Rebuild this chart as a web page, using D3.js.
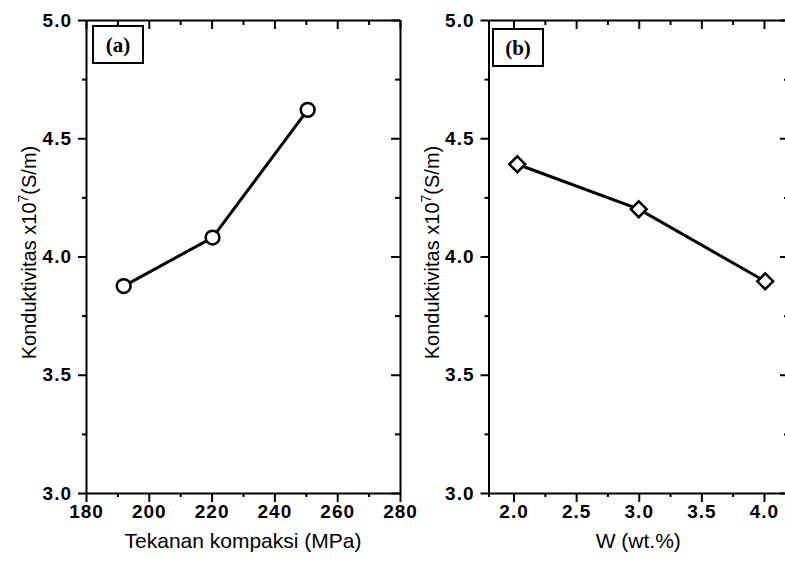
<!DOCTYPE html>
<html>
<head>
<meta charset="utf-8">
<script src="https://cdn.jsdelivr.net/npm/d3@7"></script>
<style>
  body { margin: 0; background: #fff; }
  svg { display: block; }
</style>
</head>
<body>
<script>
// data
var pressure = [192, 220.3, 250.6];      // MPa
var condA = [3.875, 4.08, 4.62];         // x10^7 S/m
var wContent = [2.03, 3.0, 4.01];        // wt.%
var condB = [4.39, 4.2, 3.895];          // x10^7 S/m

var yTicks = [3.0, 3.5, 4.0, 4.5, 5.0];
var yMinor = [3.25, 3.75, 4.25, 4.75];
var xTicksA = [180, 200, 220, 240, 260, 280];
var xMinorA = [190, 210, 230, 250, 270];
var xTicksB = [2.0, 2.5, 3.0, 3.5, 4.0];
var xMinorB = [1.8, 2.25, 2.75, 3.25, 3.75, 4.25];

var width = 785;
var height = 563;

var svg = d3
  .select("body")
  .append("svg")
  .attr("width", width)
  .attr("height", height)
  .style("font-family", "'Liberation Sans', Arial, sans-serif");

var y = d3.scaleLinear().domain([3, 5]).range([493, 20]);
var xA = d3.scaleLinear().domain([180, 280]).range([86, 400]);
var xB = d3.scaleLinear().domain([1.8, 4.2]).range([488.5, 789]);

function drawPanel(x, xs, ys, ticks, minor, fmt, xTitle, tag, boxX, boxY, marker, msize) {
  var g = svg.append("g");
  var x0 = x.range()[0], x1 = x.range()[1];
  var y0 = y.range()[0], y1 = y.range()[1];

  // bottom axis
  var bot = g.append("g").attr("transform", "translate(0," + y0 + ")");
  bot.call(d3.axisBottom(x).tickValues(ticks).tickSize(9).tickSizeOuter(0).tickPadding(3).tickFormat(fmt));
  bot.append("g").call(d3.axisBottom(x).tickValues(minor).tickSize(4).tickFormat(""))
    .select(".domain").remove();
  // top axis, ticks inward
  var top = g.append("g").attr("transform", "translate(0," + y1 + ")");
  top.call(d3.axisBottom(x).tickValues(ticks).tickSize(9).tickSizeOuter(0).tickFormat(""));
  top.append("g").call(d3.axisBottom(x).tickValues(minor).tickSize(5).tickFormat(""))
    .select(".domain").remove();
  // left axis
  var left = g.append("g").attr("transform", "translate(" + x0 + ",0)");
  left.call(d3.axisLeft(y).tickValues(yTicks).tickSize(8).tickSizeOuter(0).tickPadding(6).tickFormat(d3.format(".1f")));
  left.append("g").call(d3.axisLeft(y).tickValues(yMinor).tickSize(4).tickFormat(""))
    .select(".domain").remove();
  // right axis, ticks inward
  var right = g.append("g").attr("transform", "translate(" + x1 + ",0)");
  right.call(d3.axisLeft(y).tickValues(yTicks).tickSize(9).tickSizeOuter(0).tickFormat(""));
  right.append("g").call(d3.axisLeft(y).tickValues(yMinor).tickSize(5).tickFormat(""))
    .select(".domain").remove();

  g.selectAll(".domain").attr("stroke", "#000").attr("stroke-width", 2);
  g.selectAll(".tick line").attr("stroke", "#000").attr("stroke-width", 2);
  g.selectAll(".tick text")
    .attr("fill", "#000")
    .attr("font-size", "19px")
    .attr("font-weight", "bold")
    .attr("letter-spacing", "1px")
    .attr("font-family", "'Liberation Sans', Arial, sans-serif");

  // x title
  g.append("text")
    .attr("x", (x0 + Math.min(x1, 788)) / 2)
    .attr("y", 548)
    .attr("text-anchor", "middle")
    .attr("font-size", "21px")
    .text(xTitle);

  // y title
  var yt = g.append("text")
    .attr("transform", "translate(" + (x0 - 50) + "," + ((y0 + y1) / 2 - 4) + ") rotate(-90)")
    .attr("text-anchor", "middle")
    .attr("font-size", "20px");
  yt.append("tspan").text("Konduktivitas x10");
  yt.append("tspan").attr("dy", -8).attr("font-size", "14px").text("7");
  yt.append("tspan").attr("dy", 8).text("(S/m)");

  // panel tag box
  g.append("rect")
    .attr("x", boxX).attr("y", boxY)
    .attr("width", 50).attr("height", 37)
    .attr("fill", "#fff").attr("stroke", "#000").attr("stroke-width", 2);
  g.append("text")
    .attr("x", boxX + 25).attr("y", boxY + 26)
    .attr("text-anchor", "middle")
    .attr("font-family", "'Liberation Serif', 'Times New Roman', serif")
    .attr("font-weight", "bold")
    .attr("font-size", "21px")
    .text(tag);

  // line + markers
  var pts = xs.map(function (d, i) { return [d, ys[i]]; });
  g.append("path")
    .datum(pts)
    .attr("fill", "none")
    .attr("stroke", "#000")
    .attr("stroke-width", 3)
    .attr("d", d3.line().x(function (d) { return x(d[0]); }).y(function (d) { return y(d[1]); }));

  g.selectAll(".pt")
    .data(pts)
    .enter()
    .append("path")
    .attr("class", "pt")
    .attr("transform", function (d) { return "translate(" + x(d[0]) + "," + y(d[1]) + ")"; })
    .attr("d", d3.symbol().type(marker).size(msize))
    .attr("fill", "#fff")
    .attr("stroke", "#000")
    .attr("stroke-width", 2.5);
}

drawPanel(xA, pressure, condA, xTicksA, xMinorA, d3.format("d"),
  "Tekanan kompaksi (MPa)", "(a)", 93, 26, d3.symbolCircle, 150);
drawPanel(xB, wContent, condB, xTicksB, xMinorB, d3.format(".1f"),
  "W (wt.%)", "(b)", 493, 29, d3.symbolDiamond2, 160);
</script>
</body>
</html>
